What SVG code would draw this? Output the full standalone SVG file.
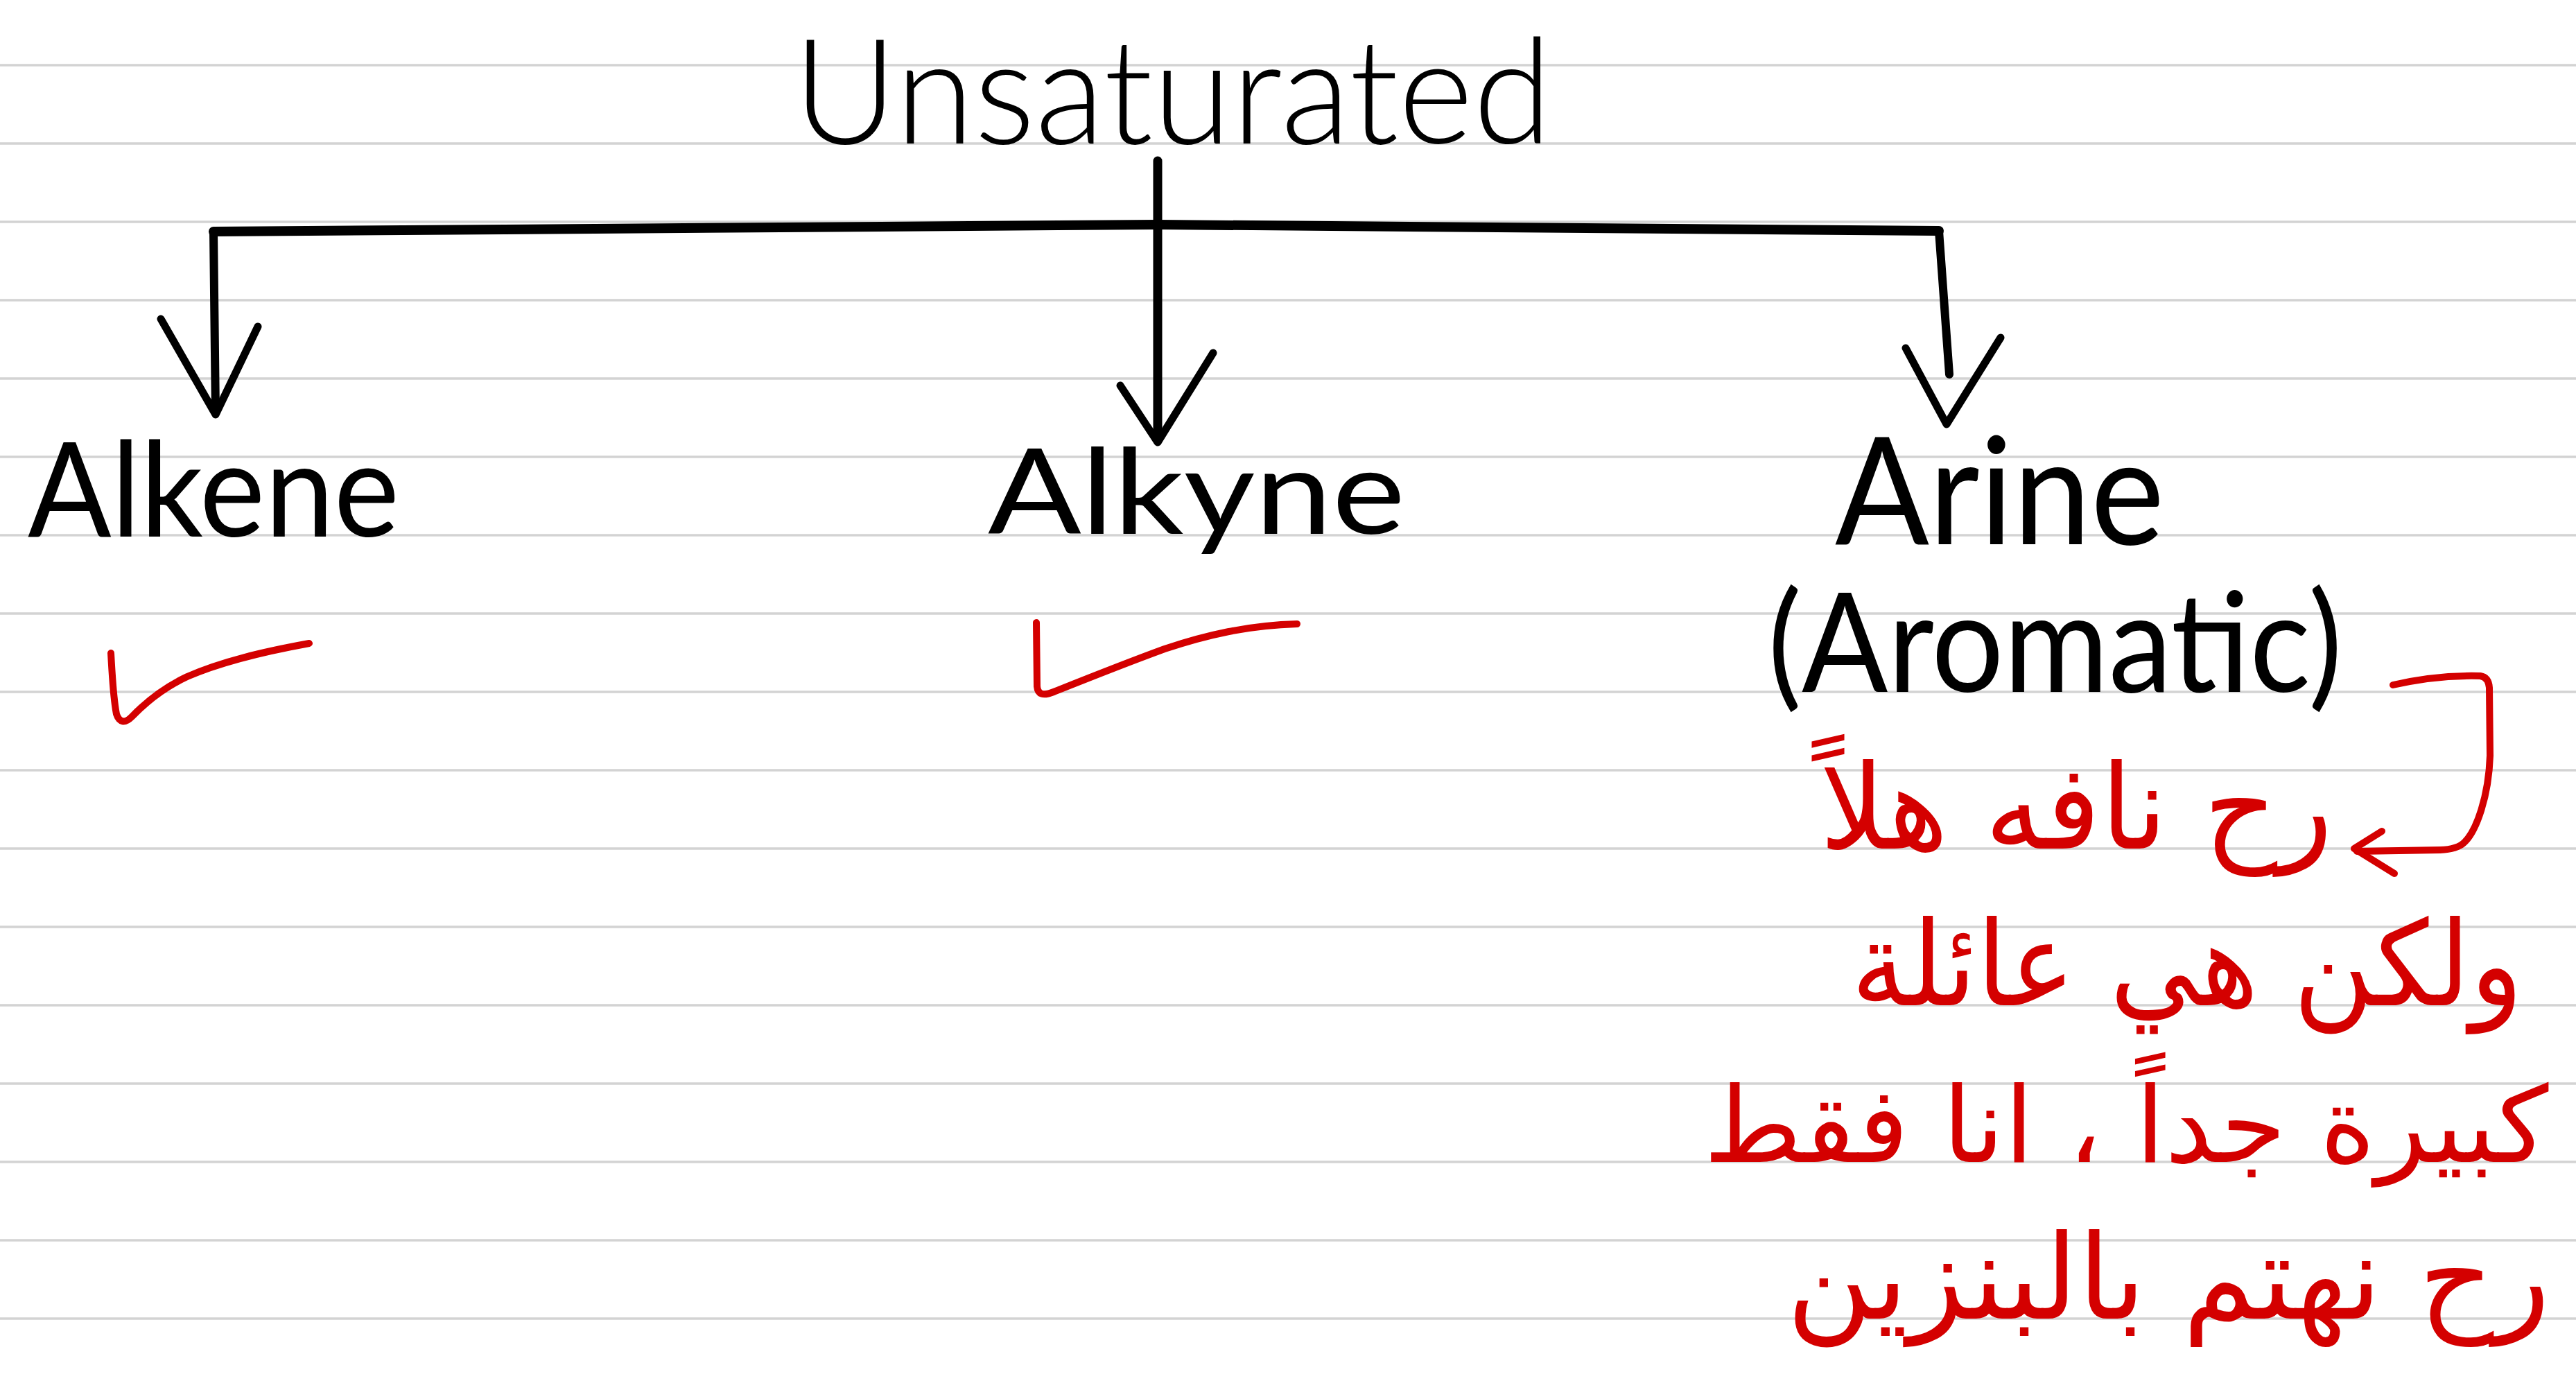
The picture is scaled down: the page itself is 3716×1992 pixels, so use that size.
<svg xmlns="http://www.w3.org/2000/svg" width="3716" height="1992" viewBox="0 0 3716 1992">
  <style>
    .rule { stroke: #d3d3d3; stroke-width: 3.5; }
    .ink { fill: none; stroke: #000; stroke-linecap: round; stroke-linejoin: round; }
    .red { fill: none; stroke: #d40000; stroke-width: 10; stroke-linecap: round; stroke-linejoin: round; }
    .hand { font-family: Lato, "Liberation Sans", sans-serif; fill: #000; }
    .ar { font-family: "DejaVu Sans", sans-serif; fill: #d40000; font-size: 170px; }
  </style>

  <rect width="3716" height="1992" fill="#fff"/>

  <!-- ruled notebook paper -->
  <g id="ruled-paper">
    <line class="rule" x1="0" y1="94" x2="3716" y2="94"/>
    <line class="rule" x1="0" y1="207" x2="3716" y2="207"/>
    <line class="rule" x1="0" y1="320" x2="3716" y2="320"/>
    <line class="rule" x1="0" y1="433" x2="3716" y2="433"/>
    <line class="rule" x1="0" y1="546" x2="3716" y2="546"/>
    <line class="rule" x1="0" y1="659" x2="3716" y2="659"/>
    <line class="rule" x1="0" y1="772" x2="3716" y2="772"/>
    <line class="rule" x1="0" y1="885" x2="3716" y2="885"/>
    <line class="rule" x1="0" y1="998" x2="3716" y2="998"/>
    <line class="rule" x1="0" y1="1111" x2="3716" y2="1111"/>
    <line class="rule" x1="0" y1="1224" x2="3716" y2="1224"/>
    <line class="rule" x1="0" y1="1337" x2="3716" y2="1337"/>
    <line class="rule" x1="0" y1="1450" x2="3716" y2="1450"/>
    <line class="rule" x1="0" y1="1563" x2="3716" y2="1563"/>
    <line class="rule" x1="0" y1="1676" x2="3716" y2="1676"/>
    <line class="rule" x1="0" y1="1789" x2="3716" y2="1789"/>
    <line class="rule" x1="0" y1="1902" x2="3716" y2="1902"/>
  </g>

  <!-- tree connectors -->
  <g id="connectors">
    <polyline class="ink" stroke-width="14" points="308,334 1670,324 2797,333"/>
    <line class="ink" stroke-width="13" x1="1670" y1="232" x2="1670" y2="636"/>
    <line class="ink" stroke-width="12" x1="308" y1="334" x2="311" y2="596"/>
    <line class="ink" stroke-width="12" x1="2797" y1="333" x2="2812" y2="540"/>
    <polyline class="ink" stroke-width="11" points="232,460 311,598 372,471"/>
    <polyline class="ink" stroke-width="11" points="1616,556 1670,638 1750,509"/>
    <polyline class="ink" stroke-width="11" points="2749,502 2808,612 2886,487"/>
  </g>

  <g id="node-unsaturated">
    <text class="hand" x="1144" y="207" font-size="212" font-weight="300" textLength="1095" lengthAdjust="spacingAndGlyphs">Unsaturated</text>
  </g>

  <g id="node-alkene">
    <text class="hand" x="40" y="774" font-size="190" textLength="536" lengthAdjust="spacingAndGlyphs">Alkene</text>
  </g>

  <g id="node-alkyne">
    <text class="hand" x="1425" y="770" font-size="170" textLength="602" lengthAdjust="spacingAndGlyphs">Alkyne</text>
  </g>

  <g id="node-arine">
    <text class="hand" x="2647" y="785" font-size="215" textLength="475" lengthAdjust="spacingAndGlyphs">Arine</text>
    <text class="hand" x="2550" y="998" font-size="200" textLength="829" lengthAdjust="spacingAndGlyphs">(Aromatic)</text>
  </g>

  <!-- red ticks and side note -->
  <g id="ticks">
    <path class="red" d="M160,942 C162,980 164,1010 168,1030 C172,1042 180,1044 190,1034 C215,1008 240,990 270,976 C320,954 380,940 446,928"/>
    <path class="red" d="M1495,898 L1496,990 C1497,1002 1505,1004 1520,998 C1570,978 1620,958 1680,936 C1740,916 1800,902 1871,900"/>
  </g>

  <g id="note-arrow">
    <path class="red" d="M3452,988 C3495,978 3540,974 3578,975 Q3590,977 3591,992 L3592,1090 C3590,1150 3572,1198 3556,1214 Q3546,1225 3520,1226 L3400,1228"/>
    <polyline class="red" points="3436,1199 3396,1224 3454,1260"/>
  </g>

  <g id="note-arine">
    <text class="ar" x="2995" y="1224" text-anchor="middle" textLength="740" lengthAdjust="spacingAndGlyphs">رح نافه هلاً</text>
    <text class="ar" x="3155" y="1450" text-anchor="middle" textLength="969" lengthAdjust="spacingAndGlyphs">ولكن هي عائلة</text>
    <text class="ar" x="3067" y="1676" text-anchor="middle" textLength="1219" lengthAdjust="spacingAndGlyphs" style="font-size:152px">كبيرة جداً ، انا فقط</text>
    <text class="ar" x="3128" y="1902" text-anchor="middle" textLength="1101" lengthAdjust="spacingAndGlyphs">رح نهتم بالبنزين</text>
  </g>
</svg>
